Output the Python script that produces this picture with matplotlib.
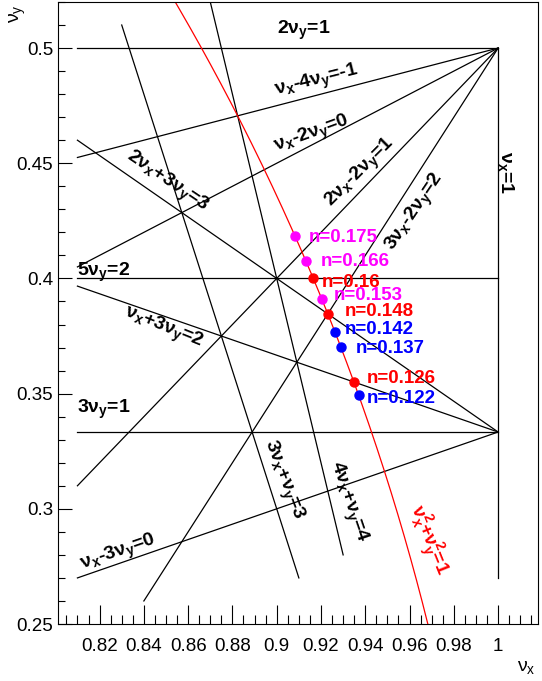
import numpy as np
import matplotlib
matplotlib.use("Agg")
import matplotlib.pyplot as plt
from matplotlib.ticker import MultipleLocator

plt.rcParams['font.family'] = ['Liberation Sans', 'DejaVu Sans']
plt.rcParams['mathtext.default'] = 'regular'

# resonance lines m*nux + n*nuy = p
res_m = [0, 1, 0, 0, 1, 1, 2, 3, 2, 1, 1, 3, 4]
res_n = [2, 0, 5, 3, -4, -2, -2, -2, 3, 3, -3, 1, 1]
res_p = [1, 1, 2, 1, -1, 0, 1, 2, 3, 2, 0, 3, 4]
# extent of each segment (nux range, or nuy range for the vertical line)
res_lo = [0.81, 0.27, 0.81, 0.81, 0.81, 0.81, 0.81, 0.84, 0.81, 0.81, 0.81, 0.83, 0.87]
res_hi = [1.00, 0.50, 1.00, 1.00, 1.00, 1.00, 1.00, 1.00, 1.00, 1.00, 1.00, 0.91, 0.93]

res_labels = ["2ν$_y$=1", "ν$_x$=1", "5ν$_y$=2", "3ν$_y$=1",
              "ν$_x$-4ν$_y$=-1", "ν$_x$-2ν$_y$=0", "2ν$_x$-2ν$_y$=1",
              "3ν$_x$-2ν$_y$=2", "2ν$_x$+3ν$_y$=3", "ν$_x$+3ν$_y$=2",
              "ν$_x$-3ν$_y$=0", "3ν$_x$+ν$_y$=3", "4ν$_x$+ν$_y$=4"]

# field index values of the working points
n_magenta = [0.175, 0.166, 0.153]
n_red = [0.16, 0.148, 0.126]
n_blue = [0.142, 0.137, 0.122]

fig = plt.figure(figsize=(5.42, 6.81), dpi=100)
ax = fig.add_axes([0.1061, 0.0837, 0.8865, 0.9134])
ax.set_xlim(0.801, 1.018)
ax.set_ylim(0.25, 0.52)

# draw the resonance lines
for m, n, p, lo, hi in zip(res_m, res_n, res_p, res_lo, res_hi):
    if n == 0:
        yy = np.array([lo, hi])
        xx = np.full(2, p / m)
    else:
        xx = np.array([lo, hi])
        yy = (p - m * xx) / n
    ax.plot(xx, yy, color='black', lw=0.9)

# label placement: centre, rotation, alignment
lab_xy = [(0.900, 0.5078), (1.0036, 0.446), (0.810, 0.4025), (0.810, 0.3433),
          (0.918, 0.4855), (0.916, 0.4625), (0.9377, 0.4457),
          (0.9625, 0.4288), (0.8504, 0.4420), (0.8489, 0.3783),
          (0.8284, 0.2808), (0.9029, 0.3127), (0.9322, 0.3030)]
lab_rot = [0, -90, 0, 0, 14, 20, 45, 56, -34, -22, 19, -69, -71]
lab_ha = ['left', 'center', 'left', 'left'] + ['center'] * 9

for txt, (x, y), r, ha in zip(res_labels, lab_xy, lab_rot, lab_ha):
    ax.text(x, y, txt, rotation=r, ha=ha, va='center', fontsize=14,
            fontweight='bold', rotation_mode='anchor')

# nux^2 + nuy^2 = 1
ny = np.linspace(0.25, 0.52, 200)
ax.plot(np.sqrt(1 - ny ** 2), ny, color='red', lw=0.9)
ax.text(0.9684, 0.2865, "ν$_x^2$+ν$_y^2$=1", color='red', rotation=-68,
        ha='center', va='center', fontsize=14, fontweight='bold',
        rotation_mode='anchor')

# working points sit on the circle: nux = sqrt(1-n), nuy = sqrt(n)
offsets = {0.175: (14, -1.3), 0.166: (14.7, 0), 0.153: (11.7, 3.8),
           0.16: (8.7, -4.4), 0.148: (16.7, 2), 0.126: (12.4, 4),
           0.142: (9.7, 2), 0.137: (14.7, -1), 0.122: (7.7, -3.7)}

for vals, col in [(n_magenta, '#ff00ff'), (n_red, '#ff0000'), (n_blue, '#0000ff')]:
    for n in vals:
        x, y = np.sqrt(1 - n), np.sqrt(n)
        ax.plot(x, y, 'o', color=col, ms=6.5, zorder=5)
        dx, dy = offsets[n]
        ax.annotate(f"n={n:g}", (x, y), xytext=(dx * 0.72, dy * 0.72),
                    textcoords='offset points', ha='left', va='center',
                    color=col, fontsize=13.5, fontweight='bold')

# ROOT-like axes: ticks inside, bottom/left only
ax.xaxis.set_major_locator(MultipleLocator(0.02))
ax.xaxis.set_minor_locator(MultipleLocator(0.005))
ax.yaxis.set_major_locator(MultipleLocator(0.05))
ax.yaxis.set_minor_locator(MultipleLocator(0.01))
ax.xaxis.set_major_formatter(plt.FuncFormatter(lambda v, _: f"{v:g}"))
ax.yaxis.set_major_formatter(plt.FuncFormatter(lambda v, _: f"{v:g}"))
ax.tick_params(axis='x', which='major', direction='in', length=13.5, width=0.8,
               labelsize=13.5, pad=10)
ax.tick_params(axis='x', which='minor', direction='in', length=6.5, width=0.8)
ax.tick_params(axis='y', which='major', direction='in', length=10, width=0.8,
               labelsize=13.5, pad=3)
ax.tick_params(axis='y', which='minor', direction='in', length=5, width=0.8)
for sp in ax.spines.values():
    sp.set_linewidth(0.8)

fig.text(536 / 542, 1 - 667 / 681, "ν$_x$", ha='right', va='center', fontsize=14)
fig.text(18 / 542, 1 - 4 / 681, "ν$_y$", ha='center', va='top', rotation=90,
         fontsize=14)

fig.savefig("out.png", dpi=100)
plt.close(fig)
